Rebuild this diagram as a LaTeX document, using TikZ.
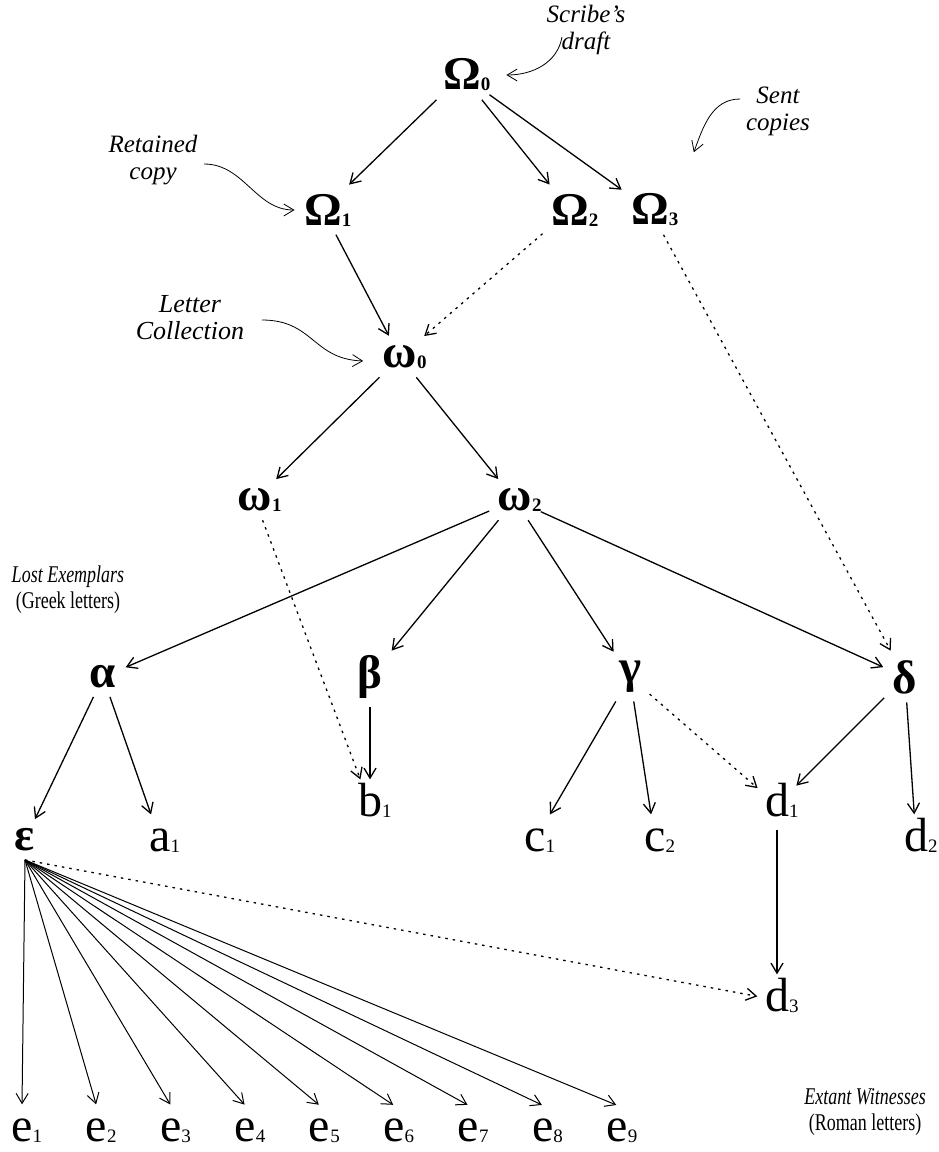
\documentclass[tikz,border=0pt]{standalone}
\usepackage{fontspec}
\setmainfont{Liberation Serif}
\newfontfamily\sigfont[FakeStretch=0.75]{Liberation Serif}
\usetikzlibrary{arrows.meta}

\newcommand{\sbs}[1]{\rlap{\fontsize{19}{19}\selectfont\raisebox{-1pt}{#1}}}

\begin{document}
\begin{tikzpicture}[x=1pt,y=-1pt,->,>={Straight Barb[length=10pt,width=12pt]},line width=1.3pt,shorten >=1pt]
  \tikzstyle{greek}=[font=\fontsize{47}{47}\selectfont\bfseries,inner sep=8pt]
  \tikzstyle{latin}=[font=\fontsize{48}{48}\selectfont,text height=22pt,text depth=0pt,inner xsep=6pt,inner ysep=13pt]
  \tikzstyle{note}=[font=\itshape\fontsize{25}{27}\selectfont,align=center]
  \tikzstyle{key}=[font=\sigfont\fontsize{24}{26}\selectfont,align=center]
  \tikzstyle{lost}=[dash pattern=on 2.5pt off 5pt]
  \useasboundingbox (0,0) rectangle (938,1152);

  % Nodes
  \node[greek] (O0) at (462,75)  {Ω\sbs{0}};
  \node[greek] (O1) at (323,210) {Ω\sbs{1}};
  \node[greek] (O2) at (570,210) {Ω\sbs{2}};
  \node[greek] (O3) at (650,210) {Ω\sbs{3}};
  \node[greek] (w0) at (400,357) {ω\sbs{0}};
  \node[greek] (w1) at (255,500) {ω\sbs{1}};
  \node[greek] (w2) at (515,500) {ω\sbs{2}};
  \node[greek] (alpha) at (103,677) {α};
  \node[greek] (beta)  at (370,677) {β};
  \node[greek] (gamma) at (630,677) {γ};
  \node[greek] (delta) at (905,677) {δ};
  \node[greek] (eps)   at (25,840)  {ε};
  \node[latin] (a1) at (160,840) {a\sbs{1}};
  \node[latin] (b1) at (370,805) {b\sbs{1}};
  \node[latin] (c1) at (535,840) {c\sbs{1}};
  \node[latin] (c2) at (655,840) {c\sbs{2}};
  \node[latin] (d1) at (777,805) {d\sbs{1}};
  \node[latin] (d2) at (916,840) {d\sbs{2}};
  \node[latin] (d3) at (777,1000) {d\sbs{3}};
  \foreach \i in {1,...,9}
    \node[latin] (e\i) at ({22+74.4*(\i-1)},1130) {e\sbs{\i}};

  % Notes
  \node[note] (scribe)   at (586,30)  {Scribe's\\draft};
  \node[note] (retained) at (153,160) {Retained\\copy};
  \node[note] (sent)     at (778,111) {Sent\\copies};
  \node[note,font=\itshape\fontsize{26}{27}\selectfont] (collect) at (190,318) {Letter\\Collection};
  \node[key]  (lost)     at (68,590)  {\textit{Lost Exemplars}\\(Greek letters)};
  \node[key]  (extant)   at (865,1112) {\textit{Extant Witnesses}\\(Roman letters)};
  \coordinate (scribetail)   at (562,37);
  \coordinate (retainedtail) at (204,164);
  \coordinate (senttail)     at (740,99);
  \coordinate (collecttail)  at (262,320);

  % Arrows / transmission
  \draw (O0) -- (O1);
  \draw (O0) -- (O2);
  \draw (O0) -- (O3);
  \draw (O1) -- (w0);
  \draw[lost] (O2) -- (w0);          % copy of Omega2 reached the collection
  \draw[lost] (O3) -- (delta);
  \draw (w0) -- (w1);
  \draw (w0) -- (w2);
  \draw[lost] (w1) -- (b1);
  \draw (w2) -- (alpha);
  \draw (w2) -- (beta);
  \draw (w2) -- (gamma);
  \draw (w2) -- (delta);
  \draw (alpha) -- (eps);
  \draw (alpha) -- (a1);
  \draw (beta) -- (b1);
  \draw (gamma) -- (c1);
  \draw (gamma) -- (c2);
  \draw[lost] (gamma) -- (d1);       % contamination
  \draw (delta) -- (d1);
  \draw (delta) -- (d2);
  \draw (d1) -- (d3);
  \draw[lost] (eps.south) -- (d3);
  \foreach \i in {1,...,9}
    \draw[line width=1pt] (eps.south) -- (e\i.north);

  % Notes pointing at the sigla
  \draw[line width=0.8pt] (scribetail) to[out=260,in=0] ([xshift=16pt]O0.east);
  \draw[line width=0.8pt] (retainedtail) to[out=0,in=180] (O1.west);
  \draw[line width=0.8pt] (senttail) to[out=180,in=70] ([shift={(16pt,32pt)}]O3.north east);
  \draw[line width=0.8pt] (collecttail) to[out=0,in=178,looseness=1.2] ([xshift=-10pt,yshift=-4pt]w0.west);
\end{tikzpicture}
\end{document}
